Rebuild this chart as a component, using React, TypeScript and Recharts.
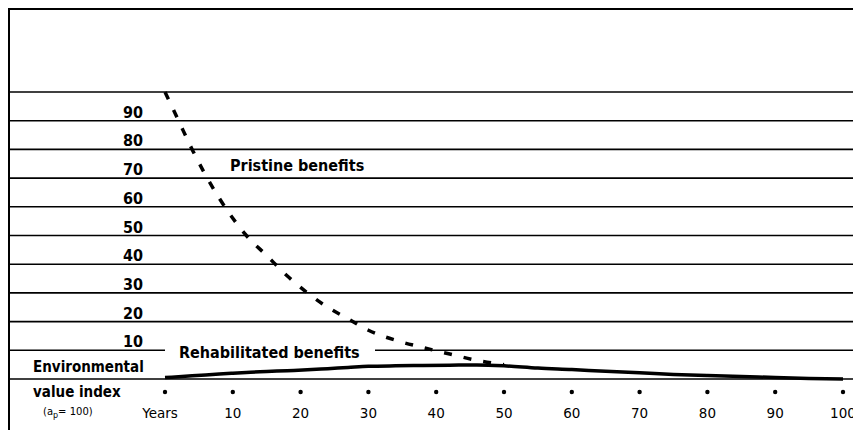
import React from 'react';
import { LineChart, Line, XAxis, YAxis } from 'recharts';

// years along the x axis
const years = [0, 2, 4, 6, 8, 10, 12, 15, 18, 21, 24, 27, 30, 34, 38, 42, 46, 50, 55, 60, 65, 70, 75, 80, 85, 90, 95, 100];
// dashed curve, stops where it meets the rehabilitated line
const pristine = [100, 90, 80, 71, 63, 56, 50, 43, 36, 30, 25, 21, 17, 13.5, 11, 8.7, 6.5, 5, null, null, null, null, null, null, null, null, null, null];
const rehabilitated = [0.5, 0.8, 1.1, 1.4, 1.7, 2, 2.3, 2.6, 2.9, 3.2, 3.6, 4, 4.4, 4.6, 4.7, 4.8, 4.9, 4.6, 3.8, 3.3, 2.7, 2.2, 1.6, 1.2, 0.9, 0.5, 0.2, 0];

const yTicks = [0, 10, 20, 30, 40, 50, 60, 70, 80, 90, 100];
const xTicks = [0, 10, 20, 30, 40, 50, 60, 70, 80, 90, 100];

const W = 853;
const H = 422;
const BOLD = '"Liberation Sans Narrow", "DejaVu Sans Condensed", Arial, sans-serif';
const THIN = '"DejaVu Sans", Arial, sans-serif';

const data = years.map((yr, i) => ({
  year: yr,
  pristine: pristine[i],
  rehab: rehabilitated[i],
}));

// gridline across the whole frame plus the label sitting just above it
const YTick = ({ y, payload }: any) => {
  const v = payload.value;
  return (
    <g>
      {v === 10 ? (
        <>
          <line x1={0} x2={157} y1={y} y2={y} stroke="#000" strokeWidth={1.6} />
          <line x1={367} x2={W} y1={y} y2={y} stroke="#000" strokeWidth={1.6} />
        </>
      ) : (
        <line x1={0} x2={W} y1={y} y2={y} stroke="#000" strokeWidth={1.6} />
      )}
      {v > 0 && v < 100 && (
        <text x={135} y={y - 3} textAnchor="end" fontFamily={BOLD} fontWeight="bold" fontSize={16} fill="#000">
          {v}
        </text>
      )}
    </g>
  );
};

const XTick = ({ x, payload }: any) => (
  <g>
    <circle cx={x} cy={384} r={2.2} fill="#000" />
    <text
      x={payload.value === 0 ? x - 5 : x}
      y={410}
      textAnchor="middle"
      fontFamily={THIN}
      fontSize={13.5}
      fill="#000"
    >
      {payload.value === 0 ? 'Years' : payload.value}
    </text>
  </g>
);

export default function App() {
  return (
    <div style={{ position: 'relative', width: W, height: H }}>
      <LineChart width={W} height={H} data={data} margin={{ top: 84, right: 18, bottom: 0, left: 156 }}>
        <XAxis
          dataKey="year"
          type="number"
          domain={[0, 100]}
          ticks={xTicks}
          axisLine={false}
          tickLine={false}
          tick={<XTick />}
          height={51}
        />
        <YAxis
          type="number"
          domain={[0, 100]}
          ticks={yTicks}
          axisLine={false}
          tickLine={false}
          tick={<YTick />}
          width={1}
        />
        <Line
          dataKey="pristine"
          type="monotone"
          stroke="#000"
          strokeWidth={3.5}
          strokeDasharray="8 12"
          dot={false}
          connectNulls={false}
          isAnimationActive={false}
        />
        <Line
          dataKey="rehab"
          type="monotone"
          stroke="#000"
          strokeWidth={3.5}
          dot={false}
          isAnimationActive={false}
        />
      </LineChart>
      <svg width={W} height={H} style={{ position: 'absolute', left: 0, top: 0, pointerEvents: 'none' }}>
        <line x1={0} x2={W} y1={1} y2={1} stroke="#000" strokeWidth={2} />
        <line x1={1} x2={1} y1={0} y2={H} stroke="#000" strokeWidth={2} />
        <g fontFamily={BOLD} fontWeight="bold" fontSize={16} fill="#000">
          <text x={222} y={163}>Pristine benefits</text>
          <text x={171} y={350}>Rehabilitated benefits</text>
        </g>
        <g fontFamily={BOLD} fontWeight="bold" fontSize={15} fill="#000">
          <text x={25} y={364}>Environmental</text>
          <text x={25} y={389}>value index</text>
        </g>
        <text x={35} y={407} fontFamily={THIN} fontSize={10} fill="#000">
          (a<tspan fontSize={8} dy={3}>p</tspan>
          <tspan dy={-3}>= 100)</tspan>
        </text>
      </svg>
    </div>
  );
}
